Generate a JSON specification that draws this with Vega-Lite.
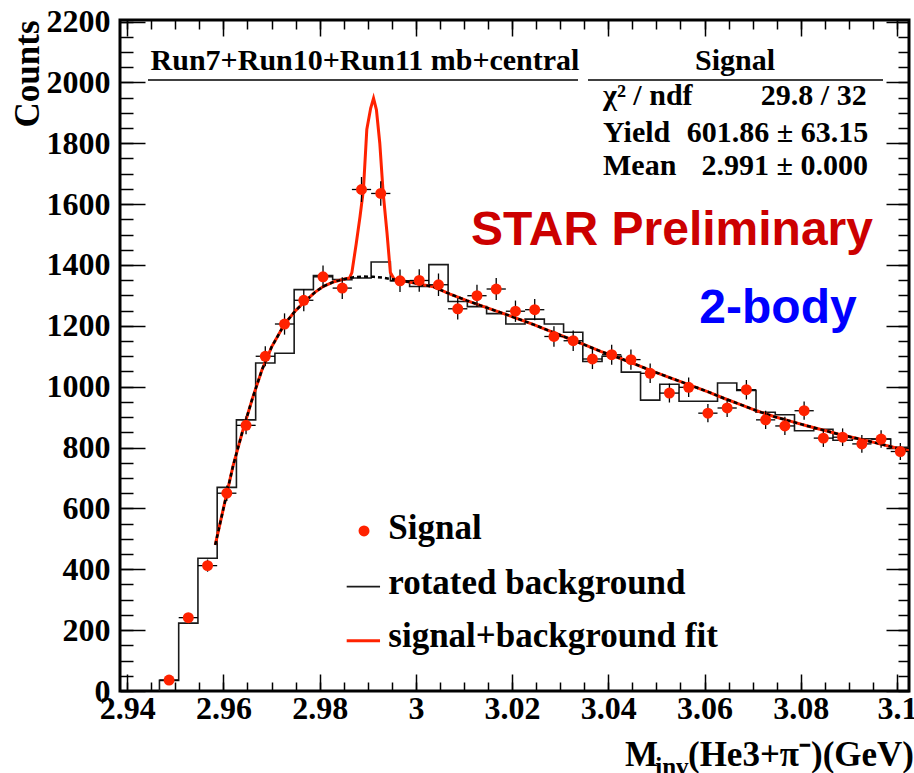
{
  "$schema": "https://vega.github.io/schema/vega-lite/v6.json",
  "width": 789,
  "height": 671,
  "autosize": {"type": "none"},
  "padding": {"left": 120, "top": 20, "right": 5, "bottom": 82},
  "background": "white",
  "data": {"values": [{}]},
  "config": {
    "view": {"stroke": "black", "strokeWidth": 3},
    "axis": {
      "domain": false,
      "grid": false,
      "labelFont": "Liberation Serif",
      "labelFontWeight": "bold",
      "labelFontSize": 32,
      "labelColor": "black",
      "labelFlush": false,
      "labelOverlap": false,
      "tickColor": "black",
      "tickWidth": 1.5,
      "titleFont": "Liberation Serif",
      "titleFontWeight": "bold",
      "titleColor": "black"
    },
    "text": {"font": "Liberation Serif", "fontWeight": "bold", "color": "black"}
  },
  "datasets": {
    "hist": [
      {"i": 0, "x": 2.9467, "n": 0},
      {"i": 1, "x": 2.9467, "n": 35},
      {"i": 2, "x": 2.9507, "n": 223},
      {"i": 3, "x": 2.9547, "n": 436},
      {"i": 4, "x": 2.9587, "n": 669},
      {"i": 5, "x": 2.9627, "n": 891},
      {"i": 6, "x": 2.9667, "n": 1078},
      {"i": 7, "x": 2.9707, "n": 1110},
      {"i": 8, "x": 2.9747, "n": 1319},
      {"i": 9, "x": 2.9787, "n": 1365},
      {"i": 10, "x": 2.9827, "n": 1352},
      {"i": 11, "x": 2.9867, "n": 1357},
      {"i": 12, "x": 2.9907, "n": 1410},
      {"i": 13, "x": 2.9947, "n": 1348},
      {"i": 14, "x": 2.9987, "n": 1329},
      {"i": 15, "x": 3.0027, "n": 1401},
      {"i": 16, "x": 3.0067, "n": 1280},
      {"i": 17, "x": 3.0107, "n": 1263},
      {"i": 18, "x": 3.0147, "n": 1240},
      {"i": 19, "x": 3.0187, "n": 1206},
      {"i": 20, "x": 3.0227, "n": 1222},
      {"i": 21, "x": 3.0267, "n": 1206},
      {"i": 22, "x": 3.0307, "n": 1179},
      {"i": 23, "x": 3.0347, "n": 1083},
      {"i": 24, "x": 3.0387, "n": 1100},
      {"i": 25, "x": 3.0427, "n": 1048},
      {"i": 26, "x": 3.0467, "n": 956},
      {"i": 27, "x": 3.0507, "n": 1008},
      {"i": 28, "x": 3.0547, "n": 952},
      {"i": 29, "x": 3.0587, "n": 952},
      {"i": 30, "x": 3.0627, "n": 1012},
      {"i": 31, "x": 3.0667, "n": 988},
      {"i": 32, "x": 3.0707, "n": 916},
      {"i": 33, "x": 3.0747, "n": 908},
      {"i": 34, "x": 3.0787, "n": 855},
      {"i": 35, "x": 3.0827, "n": 860},
      {"i": 36, "x": 3.0867, "n": 824},
      {"i": 37, "x": 3.0907, "n": 829},
      {"i": 38, "x": 3.0947, "n": 828},
      {"i": 39, "x": 3.0987, "n": 801},
      {"i": 40, "x": 3.1027, "n": 801}
    ],
    "signal": [
      {"x": 2.9487, "n": 36, "lo": 30, "hi": 42, "xl": 2.9467, "xr": 2.9507},
      {"x": 2.9527, "n": 241, "lo": 225.5, "hi": 256.5, "xl": 2.9507, "xr": 2.9547},
      {"x": 2.9567, "n": 412, "lo": 392, "hi": 432, "xl": 2.9547, "xr": 2.9587},
      {"x": 2.9607, "n": 650, "lo": 624.5, "hi": 675.5, "xl": 2.9587, "xr": 2.9627},
      {"x": 2.9647, "n": 873, "lo": 843.5, "hi": 902.5, "xl": 2.9627, "xr": 2.9667},
      {"x": 2.9687, "n": 1100, "lo": 1067, "hi": 1133, "xl": 2.9667, "xr": 2.9707},
      {"x": 2.9727, "n": 1206, "lo": 1171, "hi": 1241, "xl": 2.9707, "xr": 2.9747},
      {"x": 2.9767, "n": 1284, "lo": 1248, "hi": 1320, "xl": 2.9747, "xr": 2.9787},
      {"x": 2.9807, "n": 1361, "lo": 1324, "hi": 1398, "xl": 2.9787, "xr": 2.9827},
      {"x": 2.9847, "n": 1324, "lo": 1288, "hi": 1360, "xl": 2.9827, "xr": 2.9867},
      {"x": 2.9887, "n": 1648, "lo": 1607, "hi": 1689, "xl": 2.9867, "xr": 2.9907},
      {"x": 2.9927, "n": 1635, "lo": 1595, "hi": 1675, "xl": 2.9907, "xr": 2.9947},
      {"x": 2.9967, "n": 1348, "lo": 1311, "hi": 1385, "xl": 2.9947, "xr": 2.9987},
      {"x": 3.0007, "n": 1349, "lo": 1312, "hi": 1386, "xl": 2.9987, "xr": 3.0027},
      {"x": 3.0047, "n": 1335, "lo": 1298, "hi": 1372, "xl": 3.0027, "xr": 3.0067},
      {"x": 3.0087, "n": 1256, "lo": 1221, "hi": 1291, "xl": 3.0067, "xr": 3.0107},
      {"x": 3.0127, "n": 1299, "lo": 1263, "hi": 1335, "xl": 3.0107, "xr": 3.0147},
      {"x": 3.0167, "n": 1321, "lo": 1285, "hi": 1357, "xl": 3.0147, "xr": 3.0187},
      {"x": 3.0207, "n": 1248, "lo": 1213, "hi": 1283, "xl": 3.0187, "xr": 3.0227},
      {"x": 3.0247, "n": 1253, "lo": 1218, "hi": 1288, "xl": 3.0227, "xr": 3.0267},
      {"x": 3.0287, "n": 1165, "lo": 1131, "hi": 1199, "xl": 3.0267, "xr": 3.0307},
      {"x": 3.0327, "n": 1151, "lo": 1117, "hi": 1185, "xl": 3.0307, "xr": 3.0347},
      {"x": 3.0367, "n": 1091, "lo": 1058, "hi": 1124, "xl": 3.0347, "xr": 3.0387},
      {"x": 3.0407, "n": 1105, "lo": 1072, "hi": 1138, "xl": 3.0387, "xr": 3.0427},
      {"x": 3.0447, "n": 1089, "lo": 1056, "hi": 1122, "xl": 3.0427, "xr": 3.0467},
      {"x": 3.0487, "n": 1044, "lo": 1012, "hi": 1076, "xl": 3.0467, "xr": 3.0507},
      {"x": 3.0527, "n": 979, "lo": 948, "hi": 1010, "xl": 3.0507, "xr": 3.0547},
      {"x": 3.0567, "n": 998, "lo": 966, "hi": 1030, "xl": 3.0547, "xr": 3.0587},
      {"x": 3.0607, "n": 913, "lo": 883, "hi": 943, "xl": 3.0587, "xr": 3.0627},
      {"x": 3.0647, "n": 930, "lo": 900, "hi": 960, "xl": 3.0627, "xr": 3.0667},
      {"x": 3.0687, "n": 990, "lo": 958, "hi": 1022, "xl": 3.0667, "xr": 3.0707},
      {"x": 3.0727, "n": 891, "lo": 861, "hi": 921, "xl": 3.0707, "xr": 3.0747},
      {"x": 3.0767, "n": 871, "lo": 841, "hi": 901, "xl": 3.0747, "xr": 3.0787},
      {"x": 3.0807, "n": 921, "lo": 891, "hi": 951, "xl": 3.0787, "xr": 3.0827},
      {"x": 3.0847, "n": 831, "lo": 802, "hi": 860, "xl": 3.0827, "xr": 3.0867},
      {"x": 3.0887, "n": 834, "lo": 805, "hi": 863, "xl": 3.0867, "xr": 3.0907},
      {"x": 3.0927, "n": 812, "lo": 783, "hi": 841, "xl": 3.0907, "xr": 3.0947},
      {"x": 3.0967, "n": 828, "lo": 799, "hi": 857, "xl": 3.0947, "xr": 3.0987},
      {"x": 3.1007, "n": 787, "lo": 759, "hi": 815, "xl": 3.0987, "xr": 3.1027}
    ],
    "bgfit": [
      {"x": 2.9583, "y": 480}, {"x": 2.96, "y": 600}, {"x": 2.962, "y": 740},
      {"x": 2.964, "y": 855}, {"x": 2.966, "y": 960}, {"x": 2.968, "y": 1055},
      {"x": 2.97, "y": 1130}, {"x": 2.9727, "y": 1206}, {"x": 2.975, "y": 1250},
      {"x": 2.9766, "y": 1275}, {"x": 2.979, "y": 1310}, {"x": 2.9808, "y": 1330},
      {"x": 2.983, "y": 1345}, {"x": 2.985, "y": 1353}, {"x": 2.987, "y": 1360},
      {"x": 2.9891, "y": 1362}, {"x": 2.9912, "y": 1361}, {"x": 2.9933, "y": 1358},
      {"x": 2.9955, "y": 1352}, {"x": 2.9975, "y": 1347}, {"x": 3.0, "y": 1340},
      {"x": 3.0037, "y": 1328}, {"x": 3.007, "y": 1305}, {"x": 3.0106, "y": 1283},
      {"x": 3.015, "y": 1258}, {"x": 3.019, "y": 1236}, {"x": 3.0245, "y": 1204},
      {"x": 3.028, "y": 1182}, {"x": 3.0315, "y": 1160}, {"x": 3.035, "y": 1138},
      {"x": 3.0384, "y": 1116}, {"x": 3.042, "y": 1096}, {"x": 3.0453, "y": 1076},
      {"x": 3.049, "y": 1052}, {"x": 3.0536, "y": 1025}, {"x": 3.057, "y": 1005},
      {"x": 3.0606, "y": 984}, {"x": 3.064, "y": 962}, {"x": 3.0675, "y": 941},
      {"x": 3.071, "y": 920}, {"x": 3.0744, "y": 902}, {"x": 3.078, "y": 886},
      {"x": 3.0814, "y": 871}, {"x": 3.085, "y": 856}, {"x": 3.0883, "y": 842},
      {"x": 3.092, "y": 829}, {"x": 3.0952, "y": 817}, {"x": 3.099, "y": 802},
      {"x": 3.1025, "y": 789}
    ],
    "totalfit": [
      {"x": 2.9583, "y": 480}, {"x": 2.96, "y": 600}, {"x": 2.962, "y": 740},
      {"x": 2.964, "y": 855}, {"x": 2.966, "y": 960}, {"x": 2.968, "y": 1055},
      {"x": 2.97, "y": 1130}, {"x": 2.9727, "y": 1206}, {"x": 2.975, "y": 1250},
      {"x": 2.9766, "y": 1275}, {"x": 2.979, "y": 1310}, {"x": 2.9808, "y": 1330},
      {"x": 2.983, "y": 1345}, {"x": 2.985, "y": 1353}, {"x": 2.9862, "y": 1357},
      {"x": 2.9867, "y": 1375}, {"x": 2.9876, "y": 1470}, {"x": 2.9884, "y": 1560},
      {"x": 2.9891, "y": 1648}, {"x": 2.9898, "y": 1845}, {"x": 2.9906, "y": 1915},
      {"x": 2.9912, "y": 1948}, {"x": 2.9918, "y": 1910}, {"x": 2.9925, "y": 1800},
      {"x": 2.9932, "y": 1637}, {"x": 2.994, "y": 1505}, {"x": 2.9947, "y": 1375},
      {"x": 2.9955, "y": 1353}, {"x": 2.9975, "y": 1347}, {"x": 3.0, "y": 1340},
      {"x": 3.0037, "y": 1328}, {"x": 3.007, "y": 1305}, {"x": 3.0106, "y": 1283},
      {"x": 3.015, "y": 1258}, {"x": 3.019, "y": 1236}, {"x": 3.0245, "y": 1204},
      {"x": 3.028, "y": 1182}, {"x": 3.0315, "y": 1160}, {"x": 3.035, "y": 1138},
      {"x": 3.0384, "y": 1116}, {"x": 3.042, "y": 1096}, {"x": 3.0453, "y": 1076},
      {"x": 3.049, "y": 1052}, {"x": 3.0536, "y": 1025}, {"x": 3.057, "y": 1005},
      {"x": 3.0606, "y": 984}, {"x": 3.064, "y": 962}, {"x": 3.0675, "y": 941},
      {"x": 3.071, "y": 920}, {"x": 3.0744, "y": 902}, {"x": 3.078, "y": 886},
      {"x": 3.0814, "y": 871}, {"x": 3.085, "y": 856}, {"x": 3.0883, "y": 842},
      {"x": 3.092, "y": 829}, {"x": 3.0952, "y": 817}, {"x": 3.099, "y": 802},
      {"x": 3.1025, "y": 789}
    ]
  },
  "layer": [
    {
      "data": {"name": "hist"},
      "mark": {"type": "line", "interpolate": "step-after", "color": "#1a1a1a", "strokeWidth": 1.6, "clip": true},
      "encoding": {
        "x": {
          "field": "x", "type": "quantitative",
          "scale": {"domain": [2.9385, 3.1025], "nice": false, "zero": false},
          "axis": {"orient": "bottom", "title": null, "values": [2.94, 2.96, 2.98, 3, 3.02, 3.04, 3.06, 3.08, 3.1], "format": ".2~f", "tickSize": -17, "labelPadding": 19}
        },
        "y": {
          "field": "n", "type": "quantitative",
          "scale": {"domain": [0, 2205], "nice": false, "zero": false},
          "axis": {"orient": "left", "title": "Counts", "titleFontSize": 35, "titleAnchor": "end", "titlePadding": 1, "values": [0, 200, 400, 600, 800, 1000, 1200, 1400, 1600, 1800, 2000, 2200], "format": "d", "tickSize": -25, "labelPadding": 35}
        },
        "order": {"field": "i", "type": "quantitative"}
      }
    },
    {
      "data": {"name": "totalfit"},
      "mark": {"type": "line", "color": "#ff2200", "strokeWidth": 3, "clip": true},
      "encoding": {
        "x": {"field": "x", "type": "quantitative", "axis": null},
        "y": {"field": "y", "type": "quantitative", "axis": null}
      }
    },
    {
      "data": {"name": "bgfit"},
      "mark": {"type": "line", "color": "black", "strokeWidth": 2.5, "strokeDash": [4, 3], "clip": true},
      "encoding": {
        "x": {"field": "x", "type": "quantitative", "axis": null},
        "y": {"field": "y", "type": "quantitative", "axis": null}
      }
    },
    {
      "data": {"name": "signal"},
      "mark": {"type": "rule", "color": "black", "strokeWidth": 1.3, "clip": true},
      "encoding": {
        "x": {
          "field": "x", "type": "quantitative",
          "axis": {"orient": "bottom", "title": null, "labels": false, "tickSize": -9, "values": [2.94, 2.945, 2.95, 2.955, 2.96, 2.965, 2.97, 2.975, 2.98, 2.985, 2.99, 2.995, 3, 3.005, 3.01, 3.015, 3.02, 3.025, 3.03, 3.035, 3.04, 3.045, 3.05, 3.055, 3.06, 3.065, 3.07, 3.075, 3.08, 3.085, 3.09, 3.095, 3.1]}
        },
        "y": {
          "field": "lo", "type": "quantitative",
          "axis": {"orient": "left", "title": null, "labels": false, "tickSize": -13, "values": [0, 50, 100, 150, 200, 250, 300, 350, 400, 450, 500, 550, 600, 650, 700, 750, 800, 850, 900, 950, 1000, 1050, 1100, 1150, 1200, 1250, 1300, 1350, 1400, 1450, 1500, 1550, 1600, 1650, 1700, 1750, 1800, 1850, 1900, 1950, 2000, 2050, 2100, 2150, 2200]}
        },
        "y2": {"field": "hi"}
      }
    },
    {
      "data": {"name": "signal"},
      "mark": {"type": "rule", "color": "black", "strokeWidth": 1.3, "clip": true},
      "encoding": {
        "x": {
          "field": "xl", "type": "quantitative",
          "axis": {"orient": "top", "title": null, "labels": false, "tickSize": -16, "values": [2.94, 2.96, 2.98, 3, 3.02, 3.04, 3.06, 3.08, 3.1]}
        },
        "x2": {"field": "xr"},
        "y": {
          "field": "n", "type": "quantitative",
          "axis": {"orient": "right", "title": null, "labels": false, "tickSize": -23, "values": [0, 200, 400, 600, 800, 1000, 1200, 1400, 1600, 1800, 2000, 2200]}
        }
      }
    },
    {
      "data": {"name": "signal"},
      "mark": {"type": "point", "shape": "circle", "filled": true, "size": 120, "color": "#ff2200", "opacity": 1},
      "encoding": {
        "x": {
          "field": "x", "type": "quantitative",
          "axis": {"orient": "top", "title": null, "labels": false, "tickSize": -9, "values": [2.94, 2.945, 2.95, 2.955, 2.96, 2.965, 2.97, 2.975, 2.98, 2.985, 2.99, 2.995, 3, 3.005, 3.01, 3.015, 3.02, 3.025, 3.03, 3.035, 3.04, 3.045, 3.05, 3.055, 3.06, 3.065, 3.07, 3.075, 3.08, 3.085, 3.09, 3.095, 3.1]}
        },
        "y": {
          "field": "n", "type": "quantitative",
          "axis": {"orient": "right", "title": null, "labels": false, "tickSize": -11, "values": [0, 50, 100, 150, 200, 250, 300, 350, 400, 450, 500, 550, 600, 650, 700, 750, 800, 850, 900, 950, 1000, 1050, 1100, 1150, 1200, 1250, 1300, 1350, 1400, 1450, 1500, 1550, 1600, 1650, 1700, 1750, 1800, 1850, 1900, 1950, 2000, 2050, 2100, 2150, 2200]}
        }
      }
    },
    {
      "mark": {"type": "rule", "color": "black", "strokeWidth": 1.5},
      "encoding": {
        "x": {"datum": 2.94432, "type": "quantitative", "axis": null},
        "x2": {"datum": 3.0337},
        "y": {"datum": 2008, "type": "quantitative", "axis": null}
      }
    },
    {
      "mark": {"type": "rule", "color": "black", "strokeWidth": 1.5},
      "encoding": {
        "x": {"datum": 3.03578, "type": "quantitative", "axis": null},
        "x2": {"datum": 3.0971},
        "y": {"datum": 2008, "type": "quantitative", "axis": null}
      }
    },
    {
      "mark": {"type": "text", "text": "Run7+Run10+Run11 mb+central", "fontSize": 30, "align": "center", "baseline": "alphabetic"},
      "encoding": {
        "x": {"datum": 2.98943, "type": "quantitative", "axis": null},
        "y": {"datum": 2042, "type": "quantitative", "axis": null}
      }
    },
    {
      "mark": {"type": "text", "text": "Signal", "fontSize": 30, "align": "center", "baseline": "alphabetic"},
      "encoding": {
        "x": {"datum": 3.06633, "type": "quantitative", "axis": null},
        "y": {"datum": 2041, "type": "quantitative", "axis": null}
      }
    },
    {
      "mark": {"type": "text", "text": "χ² / ndf", "fontSize": 30, "align": "left", "baseline": "alphabetic"},
      "encoding": {
        "x": {"datum": 3.0389, "type": "quantitative", "axis": null},
        "y": {"datum": 1926, "type": "quantitative", "axis": null}
      }
    },
    {
      "mark": {"type": "text", "text": "29.8 / 32", "fontSize": 30, "align": "right", "baseline": "alphabetic"},
      "encoding": {
        "x": {"datum": 3.09371, "type": "quantitative", "axis": null},
        "y": {"datum": 1926, "type": "quantitative", "axis": null}
      }
    },
    {
      "mark": {"type": "text", "text": "Yield", "fontSize": 30, "align": "left", "baseline": "alphabetic"},
      "encoding": {
        "x": {"datum": 3.0389, "type": "quantitative", "axis": null},
        "y": {"datum": 1805, "type": "quantitative", "axis": null}
      }
    },
    {
      "mark": {"type": "text", "text": "601.86 ± 63.15", "fontSize": 30, "align": "right", "baseline": "alphabetic"},
      "encoding": {
        "x": {"datum": 3.09404, "type": "quantitative", "axis": null},
        "y": {"datum": 1805, "type": "quantitative", "axis": null}
      }
    },
    {
      "mark": {"type": "text", "text": "Mean", "fontSize": 30, "align": "left", "baseline": "alphabetic"},
      "encoding": {
        "x": {"datum": 3.0389, "type": "quantitative", "axis": null},
        "y": {"datum": 1696, "type": "quantitative", "axis": null}
      }
    },
    {
      "mark": {"type": "text", "text": "2.991 ± 0.000", "fontSize": 30, "align": "right", "baseline": "alphabetic"},
      "encoding": {
        "x": {"datum": 3.09398, "type": "quantitative", "axis": null},
        "y": {"datum": 1696, "type": "quantitative", "axis": null}
      }
    },
    {
      "mark": {"type": "text", "text": "STAR Preliminary", "font": "Liberation Sans", "fontSize": 48, "color": "#cc0000", "align": "center", "baseline": "alphabetic"},
      "encoding": {
        "x": {"datum": 3.05324, "type": "quantitative", "axis": null},
        "y": {"datum": 1466, "type": "quantitative", "axis": null}
      }
    },
    {
      "mark": {"type": "text", "text": "2-body", "font": "Liberation Sans", "fontSize": 48, "color": "#0000ff", "align": "center", "baseline": "alphabetic"},
      "encoding": {
        "x": {"datum": 3.07527, "type": "quantitative", "axis": null},
        "y": {"datum": 1210, "type": "quantitative", "axis": null}
      }
    },
    {
      "mark": {"type": "point", "shape": "circle", "filled": true, "size": 120, "color": "#ff2200", "opacity": 1},
      "encoding": {
        "x": {"datum": 2.98922, "type": "quantitative", "axis": null},
        "y": {"datum": 526, "type": "quantitative", "axis": null}
      }
    },
    {
      "mark": {"type": "text", "text": "Signal", "fontSize": 35, "align": "left", "baseline": "alphabetic"},
      "encoding": {
        "x": {"datum": 2.99427, "type": "quantitative", "axis": null},
        "y": {"datum": 498, "type": "quantitative", "axis": null}
      }
    },
    {
      "mark": {"type": "rule", "color": "#1a1a1a", "strokeWidth": 1.6},
      "encoding": {
        "x": {"datum": 2.98562, "type": "quantitative", "axis": null},
        "x2": {"datum": 2.99255},
        "y": {"datum": 343, "type": "quantitative", "axis": null}
      }
    },
    {
      "mark": {"type": "text", "text": "rotated background", "fontSize": 35, "align": "left", "baseline": "alphabetic"},
      "encoding": {
        "x": {"datum": 2.99427, "type": "quantitative", "axis": null},
        "y": {"datum": 319, "type": "quantitative", "axis": null}
      }
    },
    {
      "mark": {"type": "rule", "color": "#ff2200", "strokeWidth": 3},
      "encoding": {
        "x": {"datum": 2.98562, "type": "quantitative", "axis": null},
        "x2": {"datum": 2.99255},
        "y": {"datum": 165, "type": "quantitative", "axis": null}
      }
    },
    {
      "mark": {"type": "text", "text": "signal+background fit", "fontSize": 35, "align": "left", "baseline": "alphabetic"},
      "encoding": {
        "x": {"datum": 2.99427, "type": "quantitative", "axis": null},
        "y": {"datum": 146, "type": "quantitative", "axis": null}
      }
    },
    {
      "mark": {"type": "text", "text": "M", "fontSize": 35, "align": "left", "baseline": "alphabetic"},
      "encoding": {
        "x": {"datum": 3.04347, "type": "quantitative", "axis": null},
        "y": {"datum": -246, "type": "quantitative", "axis": null}
      }
    },
    {
      "mark": {"type": "text", "text": "inv", "fontSize": 25, "align": "left", "baseline": "alphabetic"},
      "encoding": {
        "x": {"datum": 3.04975, "type": "quantitative", "axis": null},
        "y": {"datum": -276, "type": "quantitative", "axis": null}
      }
    },
    {
      "mark": {"type": "text", "text": "(He3+π⁻)(GeV)", "fontSize": 35, "align": "left", "baseline": "alphabetic"},
      "encoding": {
        "x": {"datum": 3.05656, "type": "quantitative", "axis": null},
        "y": {"datum": -246, "type": "quantitative", "axis": null}
      }
    }
  ],
  "resolve": {"axis": {"x": "independent", "y": "independent"}}
}
